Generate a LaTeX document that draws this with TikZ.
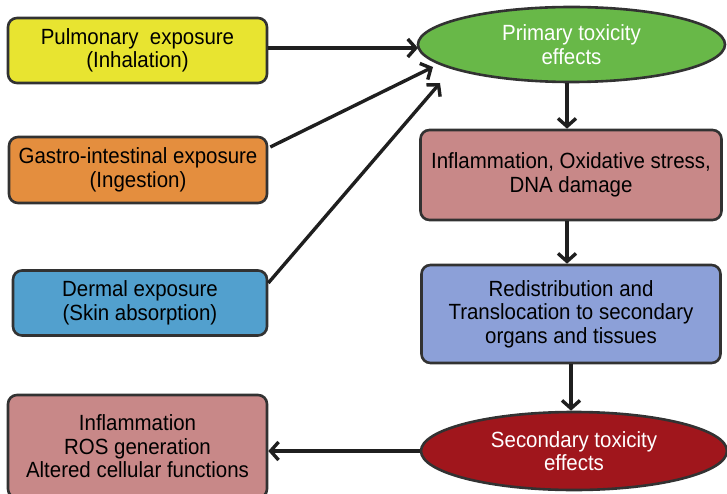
\documentclass[tikz,border=0pt]{standalone}
\usepackage{fontspec}
\setmainfont{Liberation Sans}[FakeStretch=0.93]
\usetikzlibrary{arrows.meta,shapes.geometric,calc}
\definecolor{cyel}{RGB}{232,228,48}
\definecolor{corg}{RGB}{228,142,62}
\definecolor{cblu}{RGB}{82,160,206}
\definecolor{cpnk}{RGB}{200,136,136}
\definecolor{clav}{RGB}{140,160,216}
\definecolor{cgrn}{RGB}{104,184,72}
\definecolor{cred}{RGB}{160,22,28}
\definecolor{cbrd}{RGB}{50,50,50}
\tikzset{
  box/.style={draw=cbrd, line width=2.6pt, rounded corners=9pt, align=center,
    font=\fontsize{22}{23.5}\selectfont, inner sep=0pt},
  ell/.style={draw=cbrd, line width=2.6pt, ellipse, align=center, text=white,
    font=\fontsize{22}{23.5}\selectfont, inner sep=0pt},
  arr/.style={line width=3.4pt, draw=black!88, -{Straight Barb[length=8pt,width=18pt,line width=3.4pt]}}
}
\begin{document}
\begin{tikzpicture}[x=1pt,y=-1pt]
\useasboundingbox (0,0) rectangle (727,494);
\node[box, fill=cyel, minimum width=259pt, minimum height=65pt] (pul) at (137.5,50.5) {Pulmonary\ \ exposure\\(Inhalation)};
\node[box, fill=corg, minimum width=258pt, minimum height=66pt] (gas) at (138,170) {Gastro-intestinal exposure\\(Ingestion)};
\node[box, fill=cblu, minimum width=254pt, minimum height=65pt] (der) at (140,303) {Dermal exposure\\(Skin absorption)};
\node[box, fill=cpnk, minimum width=259pt, minimum height=103pt] (alt) at (137.5,446.5) {Inflammation\\ROS generation\\Altered cellular functions};
\node[ell, fill=cgrn, minimum width=307pt, minimum height=75pt] (prim) at (571.5,44.5) {Primary toxicity\\effects};
\node[box, fill=cpnk, minimum width=301pt, minimum height=90pt] (infl) at (571,175) {Inflammation, Oxidative stress,\\DNA damage};
\node[box, fill=clav, minimum width=299pt, minimum height=98pt] (red) at (571,314) {Redistribution and\\Translocation to secondary\\organs and tissues};
\node[ell, fill=cred, minimum width=306pt, minimum height=78pt] (sec) at (574,451) {Secondary toxicity\\effects};
\coordinate (t1) at (418,48);
\coordinate (t2) at (433,67);
\coordinate (t3) at (440,83);
\draw[arr] (pul.east |- t1) -- (t1);
\draw[arr] ($(gas.east)+(2,-23)$) -- (t2);
\draw[arr] ($(der.east)+(0,-20)$) -- (t3);
\draw[arr] (prim.south -| 567,0) -- (infl.north -| 567,0);
\draw[arr] (infl.south -| 567,0) -- (red.north -| 567,0);
\draw[arr] (red.south -| 571,0) -- (sec.north -| 571,0);
\draw[arr] (sec.west) -- (alt.east |- sec.west);
\end{tikzpicture}
\end{document}
